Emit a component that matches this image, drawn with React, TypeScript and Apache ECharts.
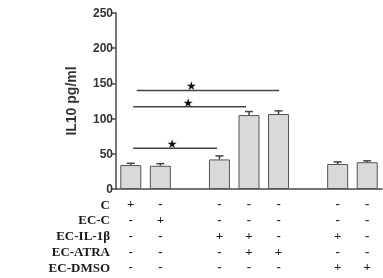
import React, { useEffect, useRef } from 'react';
import * as echarts from 'echarts';

const categories = ['C', 'EC-C', '', 'EC-IL-1β', 'EC-IL-1β+ATRA', 'EC-ATRA', '', 'EC-IL-1β+DMSO', 'EC-DMSO'];
const means: (number | null)[] = [34, 33, null, 42, 105, 106.5, null, 35.5, 38];
const errors: (number | null)[] = [2.5, 3, null, 5, 5, 4.5, null, 3, 2];

const rowLabels = ['C', 'EC-C', 'EC-IL-1β', 'EC-ATRA', 'EC-DMSO'];
const signC = ['+', '-', '', '-', '-', '-', '', '-', '-'];
const signEcC = ['-', '+', '', '-', '-', '-', '', '-', '-'];
const signIl = ['-', '-', '', '+', '+', '-', '', '+', '-'];
const signAtra = ['-', '-', '', '-', '+', '+', '', '-', '-'];
const signDmso = ['-', '-', '', '-', '-', '-', '', '+', '+'];
const signRows = [signC, signEcC, signIl, signAtra, signDmso];

// significance brackets (category index positions, value level)
const sigFrom = [0.08, 0.08, 0.2];
const sigTo = [2.92, 3.9, 5.02];
const sigY = [58, 117, 140];
const sigStar = [1.4, 1.94, 2.05];

const yAxisName = 'IL10 pg/ml';

export default function App() {
  const ref = useRef<HTMLDivElement>(null);
  useEffect(() => {
    if (!ref.current) return;
    const chart = echarts.init(ref.current, null, { renderer: 'svg' });
    const axisColor = '#4a4a4a';
    const xAt = (api: any, v: number) => {
      const c0 = api.coord([0, 0])[0];
      const c1 = api.coord([1, 0])[0];
      return c0 + v * (c1 - c0);
    };
    const option: any = {
      animation: false,
      grid: { left: 116, right: 1, top: 13, bottom: 89, containLabel: false },
      xAxis: {
        type: 'category',
        data: categories,
        axisLine: { lineStyle: { color: axisColor, width: 1.5 } },
        axisTick: { alignWithLabel: true, length: 4, lineStyle: { color: axisColor, width: 1.5 } },
        axisLabel: {
          interval: 0,
          margin: 7,
          color: '#1a1a1a',
          fontFamily: 'Liberation Serif',
          fontWeight: 'bold',
          fontSize: 13,
          lineHeight: 15.75,
          formatter: (_v: string, idx: number) => signRows.map((r) => r[idx] || ' ').join('\n'),
        },
      },
      yAxis: {
        type: 'value',
        min: 0,
        max: 250,
        interval: 50,
        name: yAxisName,
        nameLocation: 'middle',
        nameGap: 38,
        nameTextStyle: { fontFamily: 'Liberation Sans', fontWeight: 'bold', fontSize: 14, color: '#333' },
        splitLine: { show: false },
        axisLine: { show: true, lineStyle: { color: axisColor, width: 1.5 } },
        axisTick: { show: true, length: 5, lineStyle: { color: axisColor, width: 1.5 } },
        axisLabel: { margin: 3, fontFamily: 'Liberation Sans', fontWeight: 'bold', fontSize: 12, color: '#333' },
      },
      series: [
        {
          type: 'bar',
          data: means.map((v) => (v == null ? '-' : v)),
          barWidth: 21,
          itemStyle: { color: '#d9d9d9', borderColor: '#555', borderWidth: 1 },
        },
        {
          type: 'custom',
          data: means.map((v, i) => (v == null ? [i, '-', '-'] : [i, v, errors[i]])),
          encode: { x: 0, y: 1 },
          z: 5,
          renderItem: (_p: any, api: any) => {
            const v = api.value(1);
            if (isNaN(v)) return null;
            const e = api.value(2);
            const top = api.coord([api.value(0), v + e]);
            const base = api.coord([api.value(0), v]);
            return {
              type: 'group',
              children: [
                { type: 'line', shape: { x1: top[0], y1: top[1], x2: base[0], y2: base[1] }, style: { stroke: '#444', lineWidth: 1.5 } },
                { type: 'line', shape: { x1: top[0] - 4, y1: top[1], x2: top[0] + 4, y2: top[1] }, style: { stroke: '#444', lineWidth: 1.5 } },
              ],
            };
          },
        },
        {
          type: 'custom',
          data: sigY.map((y, i) => [sigFrom[i], y, sigTo[i], sigStar[i]]),
          encode: { x: 0, y: 1 },
          z: 6,
          renderItem: (_p: any, api: any) => {
            const y = api.coord([0, api.value(1)])[1];
            const x1 = xAt(api, api.value(0));
            const x2 = xAt(api, api.value(2));
            const xs = xAt(api, api.value(3));
            return {
              type: 'group',
              children: [
                { type: 'line', shape: { x1, y1: y, x2, y2: y }, style: { stroke: '#444', lineWidth: 1.5 } },
                {
                  type: 'text',
                  x: xs,
                  y: y - 4,
                  style: { text: '★', fill: '#111', fontSize: 12, fontFamily: 'DejaVu Sans', align: 'center', verticalAlign: 'middle' },
                },
              ],
            };
          },
        },
      ],
      graphic: rowLabels.map((t, i) => ({
        type: 'text',
        x: 110,
        y: 204 + i * 15.75,
        style: {
          text: t,
          fill: '#1a1a1a',
          fontFamily: 'Liberation Serif',
          fontWeight: 'bold',
          fontSize: 13,
          align: 'right',
          verticalAlign: 'middle',
        },
      })),
    };
    chart.setOption(option);
    return () => chart.dispose();
  }, []);
  return <div ref={ref} style={{ position: 'fixed', left: 0, top: 0, width: 383, height: 278 }} />;
}
